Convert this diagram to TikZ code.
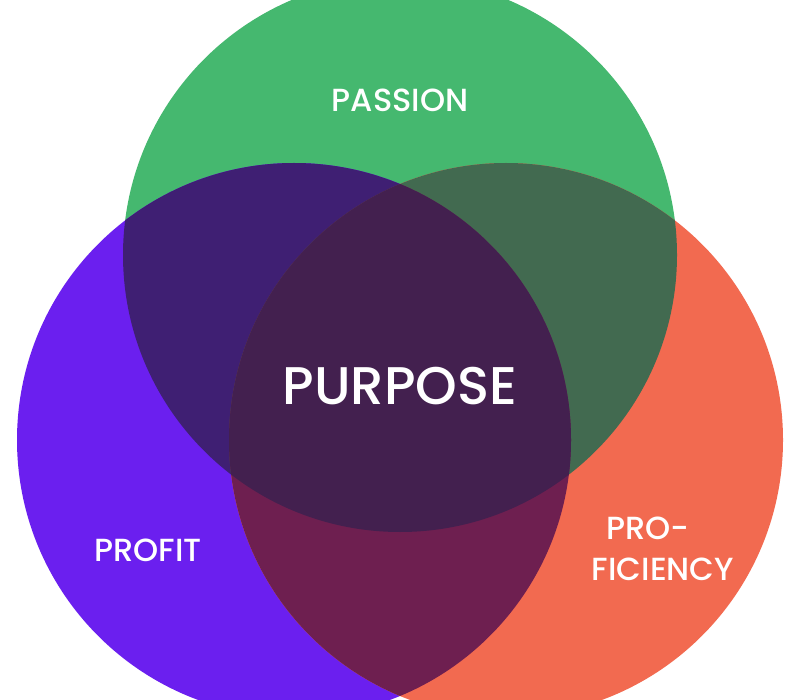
\documentclass[tikz,border=0pt]{standalone}
\usepackage{fontspec}
\setmainfont{Poppins}[UprightFont={* Medium}]
\definecolor{cg}{HTML}{45B86F}
\definecolor{cp}{HTML}{6B1FEF}
\definecolor{co}{HTML}{F26A50}
\definecolor{cpg}{HTML}{3F1F73}
\definecolor{cgo}{HTML}{426A50}
\definecolor{cpo}{HTML}{6E1F50}
\definecolor{cc}{HTML}{43204F}
\begin{document}
\begin{tikzpicture}[x=1pt,y=-1pt,lab/.style={text=white,inner sep=0pt}]
\useasboundingbox (0,0) rectangle (800,700);
\clip (0,0) rectangle (800,700);
\def\G{(400,255) circle[radius=277]}
\def\P{(294,440) circle[radius=277]}
\def\O{(506,440) circle[radius=277]}
\fill[white] (0,0) rectangle (800,700);
\fill[cg] \G;
\fill[cp] \P;
\fill[co] \O;
\begin{scope}\clip \G; \fill[cpg] \P; \fill[cgo] \O; \end{scope}
\begin{scope}\clip \P; \fill[cpo] \O; \end{scope}
\begin{scope}\clip \G; \clip \P; \fill[cc] \O; \end{scope}
\node[lab,font=\fontsize{32}{36}\selectfont] (passion) at (400,100) {PASSION};
\node[lab,font=\fontsize{53}{58}\selectfont] (purpose) at (400,386) {PURPOSE};
\node[lab,font=\fontsize{32}{36}\selectfont] (profit) at (148,550) {PROFIT};
\node[lab,font=\fontsize{32}{36}\selectfont] (pro) at (648,528) {PRO-};
\node[lab,font=\fontsize{32}{36}\selectfont] (ficiency) at (663,569) {FICIENCY};
\end{tikzpicture}
\end{document}
